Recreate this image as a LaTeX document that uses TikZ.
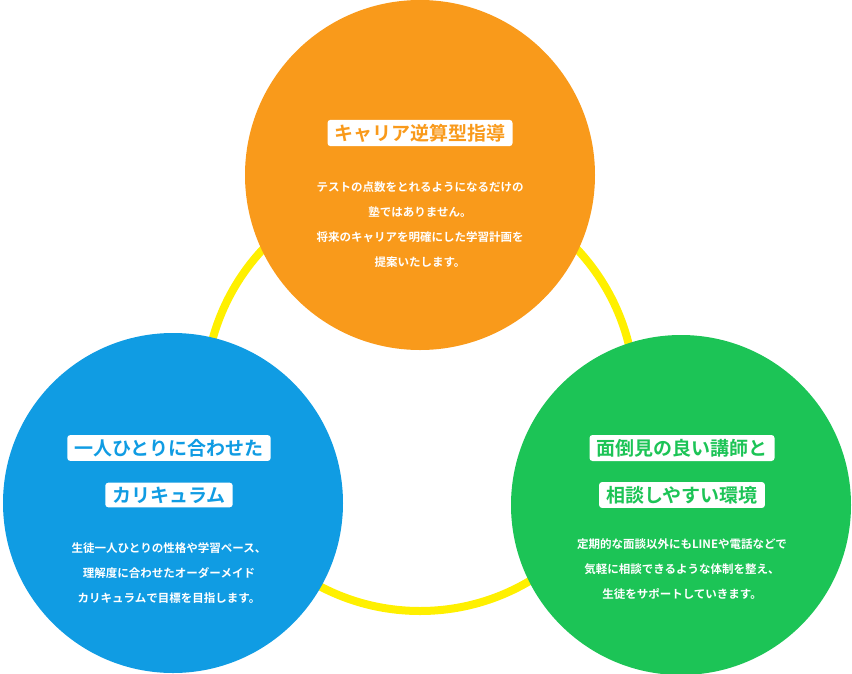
\documentclass[tikz,border=0pt]{standalone}
\usepackage{fontspec}
\setmainfont{Noto Sans CJK JP}[BoldFont={Noto Sans CJK JP Bold}]
\definecolor{org}{HTML}{F99A1B}
\definecolor{blu}{HTML}{109CE3}
\definecolor{grn}{HTML}{1CC456}
\definecolor{yel}{HTML}{FFF000}
\begin{document}
\begin{tikzpicture}[x=1pt,y=-1pt,
  ttl/.style={fill=white,rounded corners=3pt,font=\bfseries\fontsize{19}{22}\selectfont,inner xsep=7pt,inner ysep=4pt},
  body/.style={text=white,font=\bfseries\fontsize{11.5}{25}\selectfont,align=center}]
\useasboundingbox (0,0) rectangle (852,673);
\draw[yel,line width=8pt] (420,396) circle (215);
\fill[org] (420,175) circle (175);
\fill[blu] (173,503) circle (170);
\fill[grn] (681,505) circle (170);
\node[ttl,text=org] (t1) at (420,133) {キャリア逆算型指導};
\node[body] (b1) at (420,225) {テストの点数をとれるようになるだけの\\塾ではありません。\\将来のキャリアを明確にした学習計画を\\提案いたします。};
\node[ttl,text=blu] (t2a) at (169,448) {一人ひとりに合わせた};
\node[ttl,text=blu] (t2b) at (169,495) {カリキュラム};
\node[body] (b2) at (169,573) {生徒一人ひとりの性格や学習ペース、\\理解度に合わせたオーダーメイド\\カリキュラムで目標を目指します。};
\node[ttl,text=grn] (t3a) at (682,448) {面倒見の良い講師と};
\node[ttl,text=grn] (t3b) at (682,495) {相談しやすい環境};
\node[body] (b3) at (682,569) {定期的な面談以外にもLINEや電話などで\\気軽に相談できるような体制を整え、\\生徒をサポートしていきます。};
\end{tikzpicture}
\end{document}
